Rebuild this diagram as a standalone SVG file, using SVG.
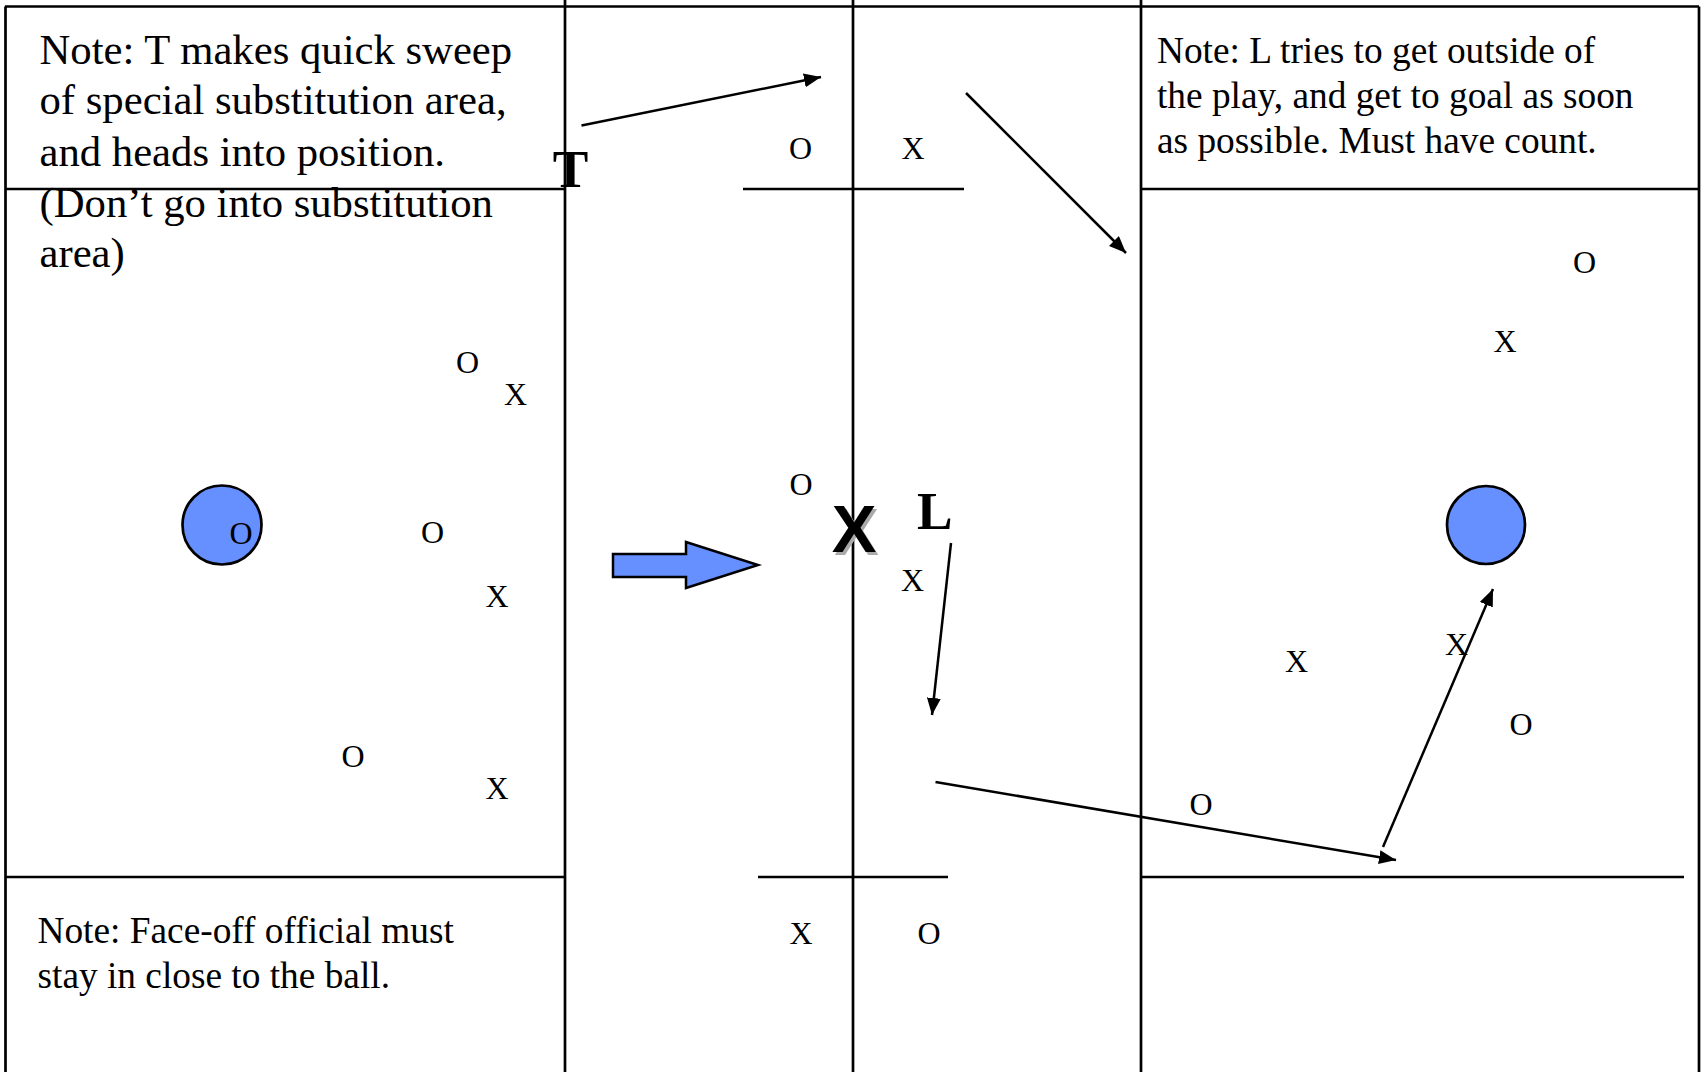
<svg xmlns="http://www.w3.org/2000/svg" width="1706" height="1074" viewBox="0 0 1706 1074">
<defs>
<style>
.grid{stroke:#000;stroke-width:2.7;fill:none}
.note{font-family:"Liberation Serif","Times New Roman",serif;fill:#000}
.p{font-family:"Liberation Serif","Times New Roman",serif;font-size:32px;fill:#000;text-anchor:middle}
.lbl{font-family:"Liberation Serif","Times New Roman",serif;font-size:53.3px;font-weight:bold;fill:#000}
.goal{fill:#668fff;stroke:#000;stroke-width:2.7}
.conn{stroke:#000;stroke-width:2.5;fill:none;marker-end:url(#ah)}
</style>
<marker id="ah" markerUnits="userSpaceOnUse" markerWidth="20" markerHeight="16" refX="17" refY="7" orient="auto">
<path d="M0,0 L17,7 L0,14 Z" fill="#000"/>
</marker>
</defs>
<rect width="1706" height="1074" fill="#fff"/>
<g id="field">
<path class="grid" d="M5,6.5 H1699 M5.5,6.5 V1072 M1699,6.5 V1072 M565,0 V1072 M853,0 V1072 M1141,0 V1072"/>
<path class="grid" d="M5,189 H565 M743,189 H964 M1141,189 H1699 M5,877 H565 M758,877 H948 M1141,877 H1684"/>
</g>
<g id="goal-left"><circle class="goal" cx="222" cy="525" r="39.5"/></g>
<g id="goal-right"><circle class="goal" cx="1486" cy="525" r="39"/></g>
<g id="note-t">
<text class="note" font-size="42.7" x="39.5" y="63.5">Note: T makes quick sweep</text>
<text class="note" font-size="42.7" x="39.5" y="114.3">of special substitution area,</text>
<text class="note" font-size="42.7" x="39.5" y="165.7">and heads into position.</text>
<text class="note" font-size="42.7" x="39.5" y="216.7">(Don’t go into substitution</text>
<text class="note" font-size="42.7" x="39.5" y="267">area)</text>
</g>
<g id="note-l">
<text class="note" font-size="37.33" x="1157" y="63">Note: L tries to get outside of</text>
<text class="note" font-size="37.33" x="1157" y="108">the play, and get to goal as soon</text>
<text class="note" font-size="37.33" x="1157" y="153">as possible. Must have count.</text>
</g>
<g id="note-faceoff">
<text class="note" font-size="37.33" x="37.5" y="943">Note: Face-off official must</text>
<text class="note" font-size="37.33" x="37.5" y="987.5">stay in close to the ball.</text>
</g>
<g id="label-t"><text class="lbl" x="570.5" y="186.5" text-anchor="middle">T</text></g>
<g id="label-l"><text class="lbl" x="917" y="529">L</text></g>
<g id="big-x">
<text x="856.5" y="554.5" text-anchor="middle" font-family="'Liberation Sans',Arial,sans-serif" font-weight="bold" font-size="67" fill="#aaa">X</text>
<text x="854" y="552" text-anchor="middle" font-family="'Liberation Sans',Arial,sans-serif" font-weight="bold" font-size="67" fill="#000">X</text>
</g>
<g id="players">
<g id="p1"><text class="p" x="467.5" y="373">O</text></g>
<g id="p2"><text class="p" x="515.5" y="405">X</text></g>
<g id="p3"><text class="p" x="241" y="543.5">O</text></g>
<g id="p4"><text class="p" x="432.5" y="543">O</text></g>
<g id="p5"><text class="p" x="497" y="607">X</text></g>
<g id="p6"><text class="p" x="353" y="767">O</text></g>
<g id="p7"><text class="p" x="497" y="799">X</text></g>
<g id="p8"><text class="p" x="800.5" y="159">O</text></g>
<g id="p9"><text class="p" x="913" y="159">X</text></g>
<g id="p10"><text class="p" x="801" y="495">O</text></g>
<g id="p11"><text class="p" x="912.5" y="591">X</text></g>
<g id="p12"><text class="p" x="801" y="944">X</text></g>
<g id="p13"><text class="p" x="929" y="944">O</text></g>
<g id="p14"><text class="p" x="1584.5" y="273">O</text></g>
<g id="p15"><text class="p" x="1505" y="352">X</text></g>
<g id="p16"><text class="p" x="1296.5" y="672">X</text></g>
<g id="p17"><text class="p" x="1456.5" y="655">X</text></g>
<g id="p18"><text class="p" x="1521" y="735">O</text></g>
<g id="p19"><text class="p" x="1201" y="815">O</text></g>
</g>
<g id="block-arrow">
<path d="M613,554 H686 V542 L758,565 L686,588 V577 H613 Z" fill="#668fff" stroke="#000" stroke-width="2.5" stroke-linejoin="miter"/>
</g>
<g id="connectors">
<line class="conn" x1="581.5" y1="125.5" x2="821" y2="77"/>
<line class="conn" x1="966" y1="93" x2="1126" y2="253"/>
<line class="conn" x1="951" y1="543" x2="932" y2="715"/>
<line class="conn" x1="935.5" y1="782" x2="1396" y2="860"/>
<line class="conn" x1="1383" y1="847" x2="1493" y2="589"/>
</g>
</svg>
